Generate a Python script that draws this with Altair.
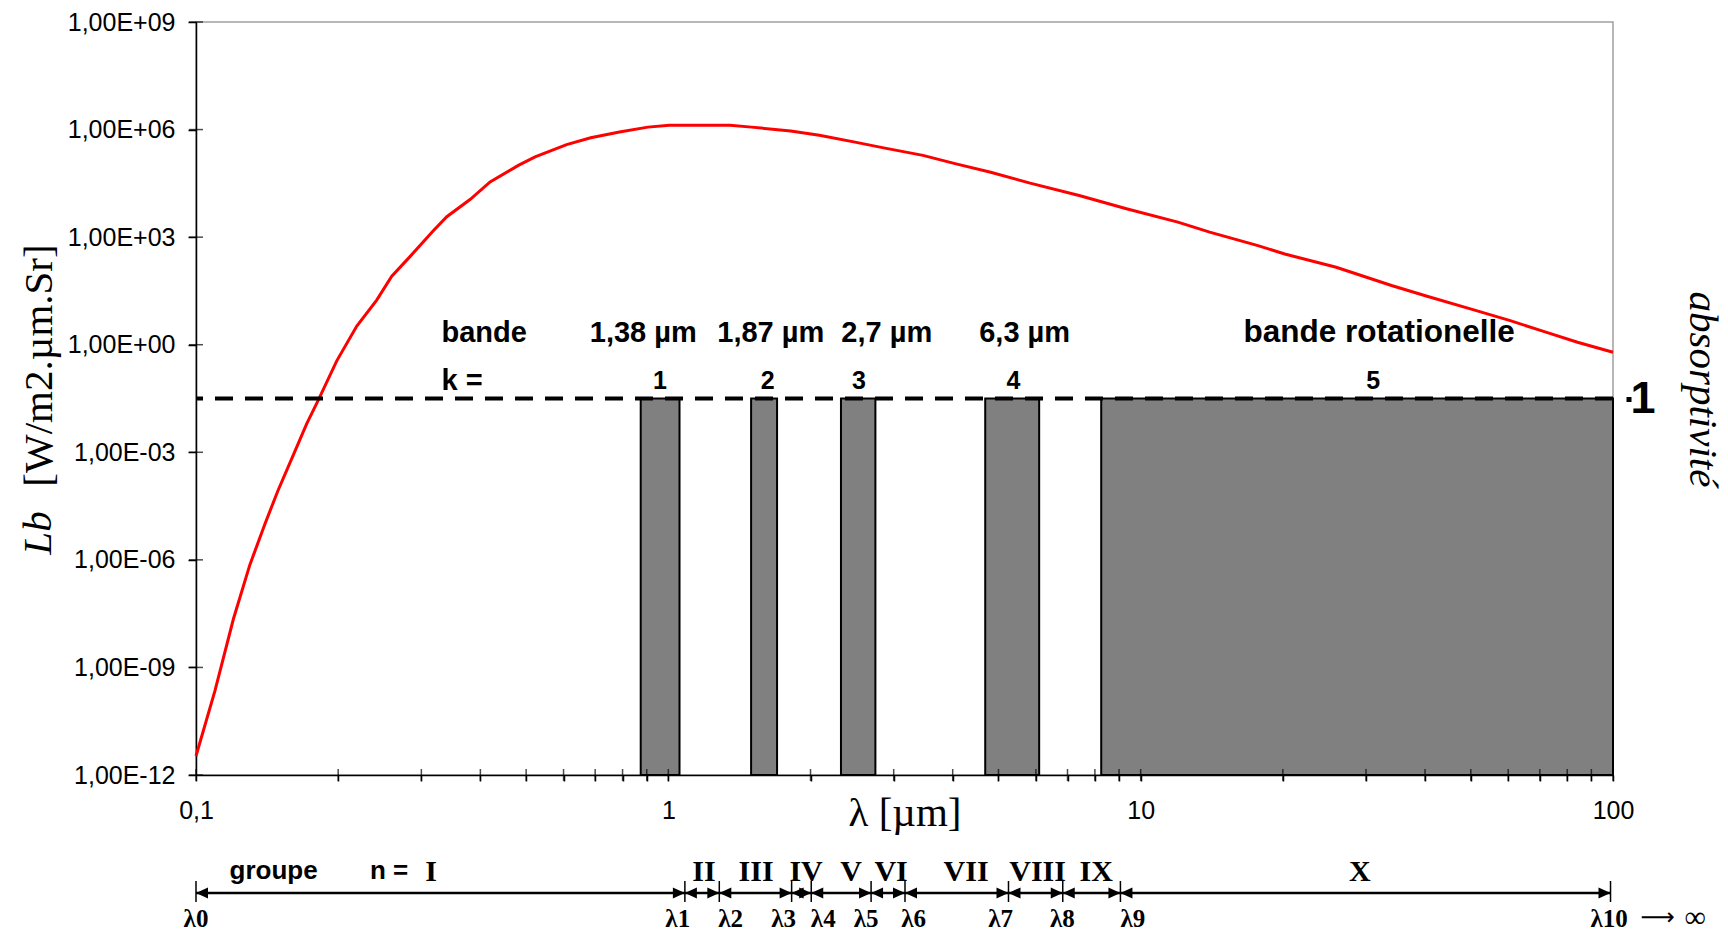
import altair as alt
import pandas as pd

# ---------------- data ----------------
wavelength_um = [0.1, 0.1097, 0.120, 0.130, 0.140, 0.149, 0.161, 0.1715, 0.1816, 0.1986,
                 0.219, 0.2413, 0.2597, 0.2838, 0.318, 0.3396, 0.3803, 0.4194, 0.4813, 0.5223,
                 0.609, 0.685, 0.788, 0.905, 1.005, 1.17, 1.351, 1.50, 1.816, 2.088,
                 2.485, 2.857, 3.46, 4.046, 4.814, 5.833, 7.41, 9.33, 11.99, 14.0,
                 17.64, 20.19, 25.94, 33.97, 40.4, 49.9, 60.6, 72.1, 84.1, 100.0]
radiance_lb = [3.39e-12, 2.24e-10, 2.24e-8, 7.24e-7, 1.02e-5, 8.32e-5, 8.91e-4, 6.17e-3, 2.88e-2, 0.355,
               3.31, 17.6, 81.3, 286, 1510, 3720, 1.12e4, 3.47e4, 1.0e5, 1.74e5,
               3.80e5, 5.89e5, 8.51e5, 1.17e6, 1.32e6, 1.32e6, 1.32e6, 1.17e6, 9.12e5, 6.92e5,
               4.47e5, 3.09e5, 1.91e5, 1.12e5, 6.46e4, 3.20e4, 1.45e4, 6170, 2630, 1380,
               589, 339, 145, 44.7, 22.4, 10.0, 4.68, 2.24, 1.17, 0.617]

band_start_um = [0.874, 1.497, 2.320, 4.687, 8.25]
band_end_um = [1.056, 1.699, 2.744, 6.097, 100.0]
band_absorptivity = [1, 1, 1, 1, 1]

band_titles = ["1,38 µm", "1,87 µm", "2,7 µm", "6,3 µm"]
band_title_x = [0.885, 1.648, 2.901, 5.68]
rot_title = "bande rotationelle"
rot_title_x = 31.98
band_numbers = ["1", "2", "3", "4", "5"]
band_number_x = [0.960, 1.623, 2.534, 5.38, 31.05]
row_words = ["bande", "k ="]
row_word_x = [0.331, 0.331]
row_word_level = [1.175, 1.047]
title_level = 1.175
number_level = 1.047

group_lambda = [0.1, 1.084, 1.282, 1.824, 2.007, 2.687, 3.17, 5.25, 6.84, 9.06, 98.8]
group_lambda_labels = ["λ0", "λ1", "λ2", "λ3", "λ4", "λ5", "λ6", "λ7", "λ8", "λ9"]
group_lambda_label_x = [0.1, 1.047, 1.355, 1.754, 2.128, 2.624, 3.307, 5.053, 6.828, 9.627]
group_last_label = "λ10"
group_numerals = ["I", "II", "III", "IV", "V", "VI", "VII", "VIII", "IX", "X"]
group_numeral_x = [0.3146, 1.19, 1.534, 1.957, 2.437, 2.962, 4.27, 6.05, 8.05, 29.1]
group_words = ["groupe", "n ="]
group_word_x = [0.1178, 0.2335]

y_tick_values = [1e-12, 1e-9, 1e-6, 1e-3, 1, 1e3, 1e6, 1e9]
y_tick_labels = ["1,00E-12", "1,00E-09", "1,00E-06", "1,00E-03",
                 "1,00E+00", "1,00E+03", "1,00E+06", "1,00E+09"]
x_major = [0.1, 1, 10, 100]
x_major_labels = ["0,1", "1", "10", "100"]
x_tick_values = [0.1, 0.2, 0.3, 0.4, 0.5, 0.6, 0.7, 0.8, 0.9,
                 1, 2, 3, 4, 5, 6, 7, 8, 9,
                 10, 20, 30, 40, 50, 60, 70, 80, 90, 100]

# ---------------- styles ----------------
W, H = 1417, 753
SANS = "Liberation Sans"
SERIF = "Liberation Serif"

xscale = alt.Scale(type="log", domain=[0.1, 100], nice=False)
yscale = alt.Scale(type="log", domain=[1e-12, 1e9], nice=False)
ascale = alt.Scale(domain=[0, 2], nice=False, zero=True)

y_label_expr = ("datum.value < 1e-10 ? '" + y_tick_labels[0] + "' : datum.value < 1e-7 ? '" + y_tick_labels[1]
                + "' : datum.value < 1e-4 ? '" + y_tick_labels[2] + "' : datum.value < 1e-1 ? '" + y_tick_labels[3]
                + "' : datum.value < 1e2 ? '" + y_tick_labels[4] + "' : datum.value < 1e5 ? '" + y_tick_labels[5]
                + "' : datum.value < 1e8 ? '" + y_tick_labels[6] + "' : '" + y_tick_labels[7] + "'")
x_label_expr = ("abs(datum.value - 0.1) < 1e-9 ? '" + x_major_labels[0] + "' : datum.value == 1 ? '"
                + x_major_labels[1] + "' : datum.value == 10 ? '" + x_major_labels[2]
                + "' : datum.value == 100 ? '" + x_major_labels[3] + "' : ''")

x_axis = alt.Axis(orient="bottom", values=x_tick_values, labelExpr=x_label_expr, labelFont=SANS,
                  labelFontSize=25, labelColor="black", labelBaseline="middle", labelPadding=29,
                  labelFlush=False, labelOverlap=False, tickSize=6, tickColor="black", tickWidth=1.5,
                  domainColor="black", domainWidth=1.5, grid=False,
                  title="λ [µm]", titleFont=SERIF, titleFontSize=41, titleFontWeight="normal",
                  titleColor="black", titleX=708.5, titleY=38, titleAlign="center",
                  titleBaseline="middle")

y_axis = alt.Axis(values=y_tick_values, labelExpr=y_label_expr, labelFont=SANS, labelFontSize=25,
                  labelColor="black", labelPadding=13, labelBaseline="middle", labelFlush=False,
                  labelOverlap=False, tickSize=8, tickColor="black", tickWidth=1.5,
                  domainColor="black", domainWidth=1.5, grid=False,
                  title="[W/m2.µm.Sr]", titleFont=SERIF, titleFontSize=41, titleFontWeight="normal",
                  titleColor="black", titleAngle=270, titleX=-157, titleY=343,
                  titleAlign="center", titleBaseline="middle")

a_axis = alt.Axis(orient="right", values=[1], labelExpr="'1'", labelFont=SANS, labelFontWeight="bold",
                  labelFontSize=45, labelColor="black", labelBaseline="middle", labelPadding=-1,
                  tickSize=18, tickWidth=5, tickColor="black", tickDash=[0, 13, 5],
                  domain=False, grid=False,
                  title="absorptivité", titleFont=SERIF, titleFontStyle="italic",
                  titleFontWeight="normal", titleFontSize=41, titleColor="black",
                  titleAngle=90, titleX=88, titleY=367, titleAlign="center", titleBaseline="middle")


def X(field):
    # every layer shares the same x scale and the same (identical) x axis definition
    return alt.X(field, type="quantitative", scale=xscale, axis=x_axis)


def text_layer(df, y, **style):
    base = dict(align="center", baseline="middle", color="black")
    base.update(style)
    return alt.Chart(df).mark_text(**base).encode(x=X("x"), y=y, text="t:N")


# ---------------- data frames ----------------
curve_df = pd.DataFrame({"wl": wavelength_um, "L": radiance_lb})
band_df = pd.DataFrame({"s": band_start_um, "e": band_end_um, "a": band_absorptivity,
                        "z": [0] * len(band_start_um)})
xt_df = pd.DataFrame({"v": x_tick_values, "b": [1e-12] * len(x_tick_values)})
yt_df = pd.DataFrame({"v": y_tick_values, "l": [0.1] * len(y_tick_values)})

curve = alt.Chart(curve_df).mark_line(color="#ff0000", strokeWidth=3).encode(
    x=X("wl"), y=alt.Y("L:Q", scale=yscale, axis=y_axis))

bars = alt.Chart(band_df).mark_rect(color="#808080", stroke="black", strokeWidth=2).encode(
    x=X("s"), x2="e:Q", y=alt.Y("a:Q", scale=ascale, axis=a_axis), y2="z:Q")

xticks = alt.Chart(xt_df).mark_tick(orient="vertical", size=12, thickness=1.5, color="black").encode(
    x=X("v"), y=alt.Y("b:Q", scale=yscale, axis=None))
yticks = alt.Chart(yt_df).mark_tick(orient="horizontal", size=14, thickness=1.5, color="black").encode(
    x=X("l"), y=alt.Y("v:Q", scale=yscale, axis=None))
lb_text = alt.Chart(pd.DataFrame({"t": ["Lb"]})).mark_text(
    angle=270, font=SERIF, fontStyle="italic", fontSize=41, align="center", baseline="middle",
    color="black").encode(x=alt.value(-157), y=alt.value(511), text="t:N")

dash = alt.Chart(pd.DataFrame({"a": [1]})).mark_rule(
    color="black", strokeWidth=4, strokeDash=[18, 12]).encode(
    y=alt.Y("a:Q", scale=ascale, axis=None))

AY = lambda: alt.Y("lv:Q", scale=ascale, axis=None)
titles = text_layer(pd.DataFrame({"x": band_title_x, "t": band_titles, "lv": [title_level] * 4}), AY(),
                    font=SANS, fontWeight="bold", fontSize=29)
rot = text_layer(pd.DataFrame({"x": [rot_title_x], "t": [rot_title], "lv": [title_level]}), AY(),
                 font=SANS, fontWeight="bold", fontSize=31.5)
numbers = text_layer(pd.DataFrame({"x": band_number_x, "t": band_numbers, "lv": [number_level] * 5}), AY(),
                     font=SANS, fontWeight="bold", fontSize=25)
words = text_layer(pd.DataFrame({"x": row_word_x, "t": row_words, "lv": row_word_level}), AY(),
                   font=SANS, fontWeight="bold", fontSize=29, align="left")

# ---------------- group diagram below the axis ----------------
LINE_Y, TICK_Y0, TICK_Y1, ROMAN_Y, LAMBDA_Y = 871, 859, 880, 850, 897
gl_df = pd.DataFrame({"x": group_lambda})
span_df = pd.DataFrame({"x": [group_lambda[0]], "x2": [group_lambda[-1]]})
line = alt.Chart(span_df).mark_rule(color="black", strokeWidth=2.5).encode(
    x=X("x"), x2="x2:Q", y=alt.value(LINE_Y))
gticks = alt.Chart(gl_df).mark_rule(color="black", strokeWidth=1.5).encode(
    x=X("x"), y=alt.value(TICK_Y0), y2=alt.value(TICK_Y1))
right_heads = alt.Chart(pd.DataFrame({"x": group_lambda[1:]})).mark_point(
    shape="M0,0L-2,-0.92L-2,0.92Z", size=144, filled=True, color="black", opacity=1,
    strokeWidth=0).encode(x=X("x"), y=alt.value(LINE_Y))
left_heads = alt.Chart(pd.DataFrame({"x": group_lambda[:-1]})).mark_point(
    shape="M0,0L2,-0.92L2,0.92Z", size=144, filled=True, color="black", opacity=1,
    strokeWidth=0).encode(x=X("x"), y=alt.value(LINE_Y))
romans = text_layer(pd.DataFrame({"x": group_numeral_x, "t": group_numerals}), alt.value(ROMAN_Y),
                    font=SERIF, fontWeight="bold", fontSize=30)
lambdas = text_layer(pd.DataFrame({"x": group_lambda_label_x, "t": group_lambda_labels}), alt.value(LAMBDA_Y),
                     font=SERIF, fontWeight="bold", fontSize=25)
last_lambda = text_layer(pd.DataFrame({"x": [group_lambda[-1]], "t": [group_last_label]}), alt.value(LAMBDA_Y),
                         font=SERIF, fontWeight="bold", fontSize=25, align="left", dx=-20)
last_arrow = text_layer(pd.DataFrame({"x": [group_lambda[-1]], "t": ["⟶"]}), alt.value(LAMBDA_Y - 1),
                        font="DejaVu Sans", fontSize=24, align="left", dx=30)
last_inf = text_layer(pd.DataFrame({"x": [group_lambda[-1]], "t": ["∞"]}), alt.value(LAMBDA_Y - 1),
                      font=SERIF, fontSize=30, align="left", dx=74)
gwords = text_layer(pd.DataFrame({"x": group_word_x, "t": group_words}), alt.value(ROMAN_Y - 1),
                    font=SANS, fontWeight="bold", fontSize=26, align="left")

chart = alt.layer(
    curve, bars, xticks, yticks, lb_text, dash, titles, rot, numbers, words,
    line, gticks, right_heads, left_heads, romans, lambdas, last_lambda, last_arrow, last_inf, gwords,
).resolve_scale(y="independent").properties(
    width=W, height=H,
    autosize=alt.AutoSizeParams(type="none"),
    padding={"left": 196, "top": 22, "right": 1728 - 196 - W, "bottom": 933 - 22 - H},
    background="white",
).configure_view(stroke="#a0a0a0", strokeWidth=1.5)

chart.save("out.html", embed_options={"renderer": "svg", "actions": False})
